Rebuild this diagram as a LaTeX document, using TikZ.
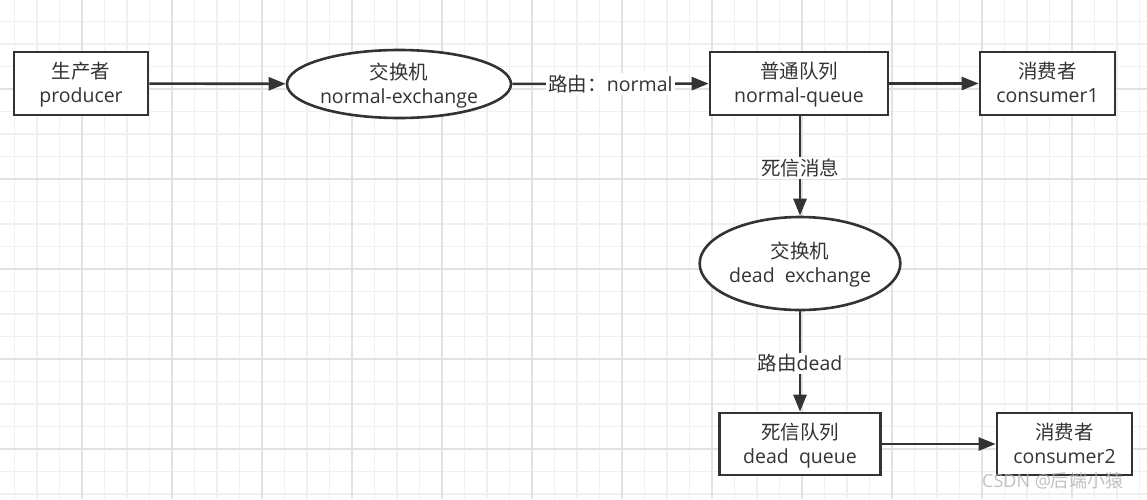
\documentclass[tikz,border=0pt]{standalone}
\usepackage{fontspec}
\setmainfont{Open Sans}
\newfontfamily\cjk{Noto Sans CJK SC}
\usetikzlibrary{shapes.geometric,arrows.meta}
\definecolor{ink}{HTML}{333333}
\definecolor{gridminor}{HTML}{F0F0F0}
\definecolor{gridmajor}{HTML}{E2E2E2}
\newcommand\twoline[2]{\raisebox{-2.5pt}[\height][\depth]{\begin{tabular}{@{}c@{}}#1\\#2\end{tabular}}}
\tikzset{
  boxnode/.style={draw=ink,line width=2.6pt,fill=white,rectangle,inner sep=0pt,align=center,text=ink,font=\fontsize{19.5}{24}\selectfont},
  ellnode/.style={draw=ink,line width=2.6pt,fill=white,ellipse,inner sep=0pt,align=center,text=ink,font=\fontsize{19.5}{24}\selectfont},
  conn/.style={draw=ink,line width=2.6pt,-{Triangle[length=17pt,width=13pt]}},
  lbl/.style={fill=white,inner sep=2pt,text=ink,font=\fontsize{19.5}{22}\selectfont},
}
\begin{document}
\begin{tikzpicture}[x=1pt,y=-1pt]
\useasboundingbox (0,0) rectangle (1147,499);
\fill[white] (0,0) rectangle (1147,499);
% grid
\foreach \k in {0,...,51} {
  \pgfmathsetmacro{\gx}{-8+22.5*\k}
  \draw[gridminor,line width=1.3pt] (\gx,0) -- (\gx,499);
}
\foreach \k in {0,...,23} {
  \pgfmathsetmacro{\gy}{-1+22.5*\k}
  \draw[gridminor,line width=1.3pt] (0,\gy) -- (1147,\gy);
}
\foreach \k in {0,...,13} {
  \pgfmathsetmacro{\gx}{-8+90*\k}
  \draw[gridmajor,line width=1.3pt] (\gx,0) -- (\gx,499);
}
\foreach \k in {0,...,6} {
  \pgfmathsetmacro{\gy}{-1+90*\k}
  \draw[gridmajor,line width=1.3pt] (0,\gy) -- (1147,\gy);
}
% nodes
\node[boxnode,minimum width=134pt,minimum height=63pt] (prod) at (81,83.5) {\twoline{\cjk 生产者}{producer}};
\node[ellnode,minimum width=224pt,minimum height=68pt] (nex) at (399,84) {\twoline{\cjk 交换机}{normal-exchange}};
\node[boxnode,minimum width=178pt,minimum height=63pt] (nq) at (799,83.5) {\twoline{\cjk 普通队列}{normal-queue}};
\node[boxnode,minimum width=135pt,minimum height=63pt] (c1) at (1047.5,83.5) {\twoline{\cjk 消费者}{consumer1}};
\node[ellnode,minimum width=186pt,minimum height=93pt] (dex) at (800,263.5) {\twoline{\cjk 交换机}{dead\ \ exchange}};
\node[boxnode,minimum width=161pt,minimum height=62pt] (dq) at (800,444) {\twoline{\cjk 死信队列}{dead\ \ queue}};
\node[boxnode,minimum width=135pt,minimum height=62pt] (c2) at (1064.5,444) {\twoline{\cjk 消费者}{consumer2}};
% connectors
\draw[conn] (prod) -- (nex);
\draw[conn] (nex) -- node[lbl] (l1) {{\cjk 路由：}normal} (nq);
\draw[conn] (nq.east |- c1.west) -- (c1);
\draw[conn] (nq.south -| dex.north) -- node[lbl,pos=0.52] (l2) {\cjk 死信消息} (dex);
\draw[conn] (dex) -- node[lbl,pos=0.52] (l3) {{\cjk 路由}dead} (dq);
\draw[conn] (dq.east |- c2.west) -- (c2);
% watermark
\node[anchor=west,text=gray!60,opacity=0.8,font=\fontsize{18}{20}\selectfont,inner sep=0pt] (wm) at (982,481) {CSDN @{\cjk 后端小猿}};
\end{tikzpicture}
\end{document}
